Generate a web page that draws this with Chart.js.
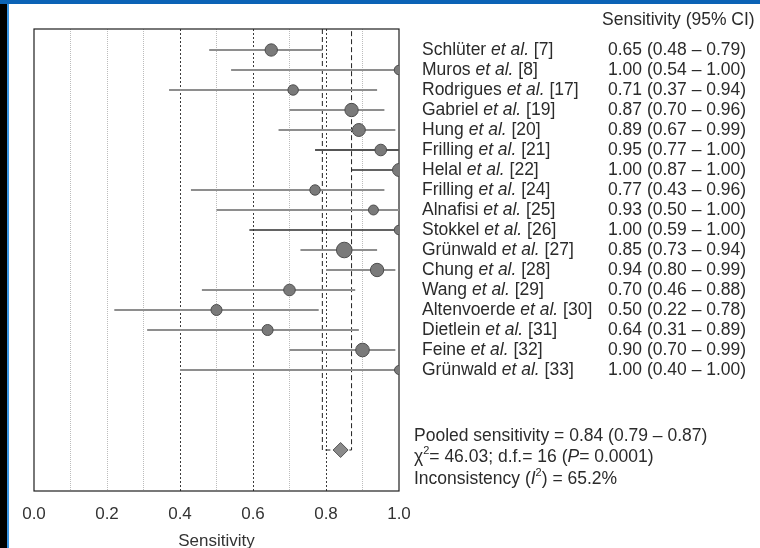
<!DOCTYPE html>
<html>
<head>
<meta charset="utf-8">
<script src="https://cdn.jsdelivr.net/npm/chart.js@4.4.1/dist/chart.umd.min.js"></script>
<style>
  html, body { margin: 0; padding: 0; background: #fff; overflow: hidden; }
  #wrap { position: relative; width: 760px; height: 548px; }
  canvas { position: absolute; left: 0; top: 0; }
  .edge { position: absolute; }
</style>
</head>
<body>
<div id="wrap">
  <canvas id="forest" width="760" height="548"></canvas>
  <div class="edge" style="left:0;top:0;width:7px;height:548px;background:#000"></div>
  <div class="edge" style="left:7px;top:0;width:2px;height:548px;background:#3b97e6"></div>
  <div class="edge" style="left:0;top:0;width:760px;height:4px;background:#0b63b6"></div>
</div>
<script>
// Studies included in the pooled analysis
const studies = ['Schlüter', 'Muros', 'Rodrigues', 'Gabriel', 'Hung', 'Frilling', 'Helal',
  'Frilling', 'Alnafisi', 'Stokkel', 'Grünwald', 'Chung', 'Wang', 'Altenvoerde',
  'Dietlein', 'Feine', 'Grünwald'];
const refs = [7, 8, 17, 19, 20, 21, 22, 24, 25, 26, 27, 28, 29, 30, 31, 32, 33];
const sensitivity = [0.65, 1.00, 0.71, 0.87, 0.89, 0.95, 1.00, 0.77, 0.93, 1.00, 0.85,
  0.94, 0.70, 0.50, 0.64, 0.90, 1.00];
const lower95 = [0.48, 0.54, 0.37, 0.70, 0.67, 0.77, 0.87, 0.43, 0.50, 0.59, 0.73,
  0.80, 0.46, 0.22, 0.31, 0.70, 0.40];
const upper95 = [0.79, 1.00, 0.94, 0.96, 0.99, 1.00, 1.00, 0.96, 1.00, 1.00, 0.94,
  0.99, 0.88, 0.78, 0.89, 0.99, 1.00];
// Relative study weights (%), shown by marker area
const weights = [6.4, 4.0, 4.7, 7.4, 7.0, 5.7, 7.0, 4.7, 4.3, 4.0, 9.9, 7.4, 5.7, 5.2,
  5.2, 7.7, 3.6];

// Pooled estimate and heterogeneity statistics
const pooledSens = 0.84;
const pooledLower = 0.79;
const pooledUpper = 0.87;
const chiSquare = 46.03;
const degFreedom = 16;
const pValue = '0.0001';
const inconsistency = 65.2;

const xTickLabels = ['0.0', '0.2', '0.4', '0.6', '0.8', '1.0'];

// Row layout: one row per study, pooled diamond further down
const Y_MIN = -0.05, Y_MAX = 23.05;
const POOLED_ROW = 21;
const rowOf = i => i + 1;

const FONT = '"Liberation Sans", Arial, Helvetica, sans-serif';
const TEXT = '#2b2b2b';
const TEXT_SIZE = 17.5;
Chart.defaults.font.family = FONT;

const ciColor = i => (refs[i] === 26 || refs[i] === 22) ? '#2f2f2f'
  : (refs[i] === 21 ? '#555' : '#8e8e8e');
const ciWidth = i => (refs[i] === 26 || refs[i] === 22) ? 1.4 : 2;

const ciSets = studies.map((s, i) => ({
  data: [{ x: lower95[i], y: rowOf(i) }, { x: upper95[i], y: rowOf(i) }],
  showLine: true, borderColor: ciColor(i), borderWidth: ciWidth(i),
  pointRadius: 0, order: 2
}));

const markerSet = {
  data: sensitivity.map((v, i) => ({ x: v, y: rowOf(i) })),
  pointRadius: weights.map(w => 2.64 * Math.sqrt(w) - 0.5),
  backgroundColor: '#7a7a7a', borderColor: '#4d4d4d', borderWidth: 1, order: 0
};

const diamondSet = {
  data: [{ x: pooledSens, y: POOLED_ROW }],
  pointStyle: 'rectRot', pointRadius: 7.5,
  backgroundColor: '#8a8a8a', borderColor: '#555', borderWidth: 1, order: 0
};

const bracketSet = {
  data: [{ x: pooledLower, y: Y_MIN }, { x: pooledLower, y: POOLED_ROW },
         { x: pooledUpper, y: POOLED_ROW }, { x: pooledUpper, y: Y_MIN }],
  showLine: true, borderColor: '#222', borderWidth: 1, borderDash: [5, 3],
  pointRadius: 0, order: 3
};

// Draws a line of text made of plain / italic / superscript pieces
function drawRuns(ctx, x, y, runs, size) {
  let cx = x;
  runs.forEach(r => {
    const fs = r.sup ? Math.round(size * 0.65) : size;
    ctx.font = (r.it ? 'italic ' : '') + fs + 'px ' + FONT;
    ctx.fillText(r.t, cx, r.sup ? y - size * 0.36 : y);
    cx += ctx.measureText(r.t).width;
  });
}

const framePlugin = {
  id: 'frame',
  beforeDatasetsDraw(chart) {
    const { ctx, chartArea: a } = chart;
    ctx.save();
    ctx.strokeStyle = '#1e1e1e';
    ctx.lineWidth = 1.2;
    ctx.strokeRect(a.left, a.top, a.right - a.left, a.bottom - a.top);
    ctx.restore();
  }
};

const tablePlugin = {
  id: 'studyTable',
  afterDraw(chart) {
    const { ctx, chartArea: a } = chart;
    const ys = chart.scales.y;
    const size = TEXT_SIZE;
    ctx.save();
    ctx.fillStyle = TEXT;
    ctx.textBaseline = 'middle';
    ctx.textAlign = 'left';
    const nameX = a.right + 23, valX = a.right + 209;
    drawRuns(ctx, a.right + 203, ys.getPixelForValue(-0.5), [{ t: 'Sensitivity (95% CI)' }], size);
    studies.forEach((s, i) => {
      const y = ys.getPixelForValue(rowOf(i));
      drawRuns(ctx, nameX, y, [{ t: s + ' ' }, { t: 'et al.', it: true }, { t: ' [' + refs[i] + ']' }], size);
      drawRuns(ctx, valX, y, [{ t: sensitivity[i].toFixed(2) + ' (' + lower95[i].toFixed(2) +
        ' – ' + upper95[i].toFixed(2) + ')' }], size);
    });
    const fx = a.right + 15;
    drawRuns(ctx, fx, ys.getPixelForValue(POOLED_ROW - 0.7), [
      { t: 'Pooled sensitivity = ' + pooledSens.toFixed(2) + ' (' + pooledLower.toFixed(2) +
        ' – ' + pooledUpper.toFixed(2) + ')' }], size);
    drawRuns(ctx, fx, ys.getPixelForValue(POOLED_ROW + 0.35), [
      { t: 'χ' }, { t: '2', sup: true }, { t: '= ' + chiSquare.toFixed(2) + '; d.f.= ' + degFreedom + ' (' },
      { t: 'P', it: true }, { t: '= ' + pValue + ')' }], size);
    drawRuns(ctx, fx, ys.getPixelForValue(POOLED_ROW + 1.45), [
      { t: 'Inconsistency (' }, { t: 'I', it: true }, { t: '2', sup: true },
      { t: ') = ' + inconsistency.toFixed(1) + '%' }], size);
    ctx.restore();
  }
};

const tenth = v => Math.round(v * 10);

new Chart(document.getElementById('forest'), {
  type: 'scatter',
  data: { datasets: [markerSet, diamondSet, ...ciSets, bracketSet] },
  options: {
    responsive: false,
    animation: false,
    devicePixelRatio: 1,
    layout: { padding: { left: 34, right: 361, top: 29, bottom: -1.5 } },
    plugins: { legend: { display: false }, tooltip: { enabled: false } },
    scales: {
      x: {
        type: 'linear', min: 0, max: 1,
        ticks: {
          stepSize: 0.1, autoSkip: false, maxRotation: 0, padding: 14.5,
          color: '#333', font: { size: 17, lineHeight: 1 },
          callback: v => (tenth(v) % 2 === 0 ? xTickLabels[tenth(v) / 2] : '')
        },
        grid: {
          drawTicks: false, lineWidth: 1,
          color: c => {
            const t = tenth(c.tick ? c.tick.value : 0);
            if (t === 0 || t === 10) return 'rgba(0,0,0,0)';
            return (t === 4 || t === 6 || t === 8) ? '#3c3c3c' : '#bcbcbc';
          }
        },
        border: {
          display: false,
          dash: c => {
            const t = tenth(c.tick ? c.tick.value : 0);
            return (t === 4 || t === 6 || t === 8) ? [2, 2] : [1, 1];
          }
        },
        title: {
          display: true, text: 'Sensitivity', color: '#333',
          font: { size: 17, lineHeight: 1 }, padding: { top: -4.5, bottom: 0 }
        }
      },
      y: { type: 'linear', reverse: true, min: Y_MIN, max: Y_MAX, display: false }
    }
  },
  plugins: [framePlugin, tablePlugin]
});
</script>
</body>
</html>
